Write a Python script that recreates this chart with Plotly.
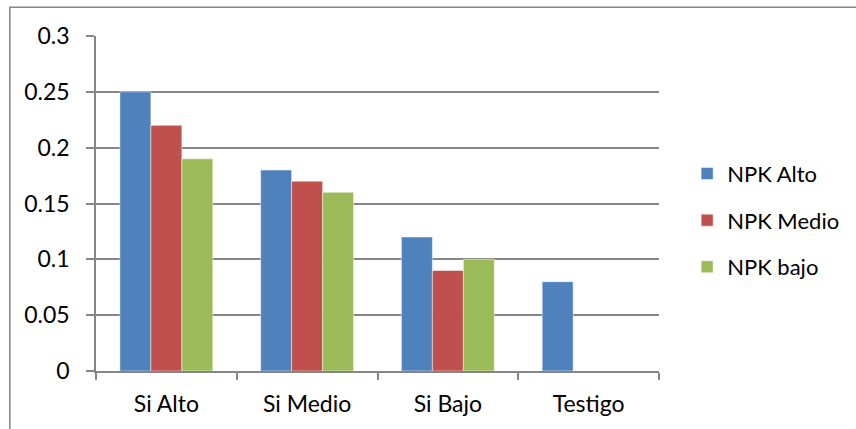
import plotly.graph_objects as go

categories = ["Si Alto", "Si Medio", "Si Bajo", "Testigo"]
npk_alto = [0.25, 0.18, 0.12, 0.08]
npk_medio = [0.22, 0.17, 0.09, None]
npk_bajo = [0.19, 0.16, 0.10, None]
series_names = ["NPK Alto", "NPK Medio", "NPK bajo"]
colors = ["#4F81BD", "#C0504D", "#9BBB59"]
y_ticks = [0, 0.05, 0.1, 0.15, 0.2, 0.25, 0.3]
y_tick_labels = ["0", "0.05", "0.1", "0.15", "0.2", "0.25", "0.3"]

W, H = 856, 429
L, R, T, B = 96, 195, 36, 56
pw, ph = W - L - R, H - T - B

fig = go.Figure()
for i, (name, vals) in enumerate(zip(series_names, [npk_alto, npk_medio, npk_bajo])):
    fig.add_trace(go.Bar(
        x=categories, y=vals, name=name,
        marker=dict(color=colors[i], line=dict(color="rgba(255,255,255,0.6)", width=0.8)),
        legendgroup=name,
    ))

axis_col = "#868686"
fig.update_layout(
    width=W, height=H,
    margin=dict(l=L, r=R, t=T, b=B),
    paper_bgcolor="white", plot_bgcolor="white",
    font=dict(family="Lato, Calibri, sans-serif", size=23, color="#000000"),
    barmode="group", bargap=0.34, bargroupgap=0,
    showlegend=True,
    legend=dict(x=1.05, y=0.45, xanchor="left", yanchor="middle",
                tracegroupgap=15, font=dict(size=22), itemwidth=30,
                bgcolor="rgba(0,0,0,0)"),
    xaxis=dict(showline=True, linecolor=axis_col, linewidth=1.5,
               ticks="outside", tickson="boundaries", ticklen=7, tickcolor=axis_col, tickwidth=1.5,
               showgrid=False, ticklabelstandoff=12),
    yaxis=dict(range=[0, 0.3], tickvals=y_ticks, ticktext=y_tick_labels,
               showline=True, linecolor=axis_col, linewidth=1.5,
               ticks="outside", ticklen=8, tickcolor=axis_col, tickwidth=1.5,
               showgrid=True, gridcolor=axis_col, gridwidth=1.5,
               zeroline=False, ticklabelstandoff=12),
)

# outer chart border (extends beyond the visible frame on right/bottom)
fig.add_shape(type="rect", xref="paper", yref="paper",
              x0=(9.5 - L) / pw, x1=(W + 20 - L) / pw,
              y0=(H - B - (H + 20)) / ph, y1=(H - B - 7) / ph,
              line=dict(color="#868686", width=1.5), fillcolor="rgba(0,0,0,0)", layer="below")

fig.write_html("out.html", config={"displayModeBar": False},
               post_script="document.body.style.margin='0';document.body.style.overflow='hidden';")
